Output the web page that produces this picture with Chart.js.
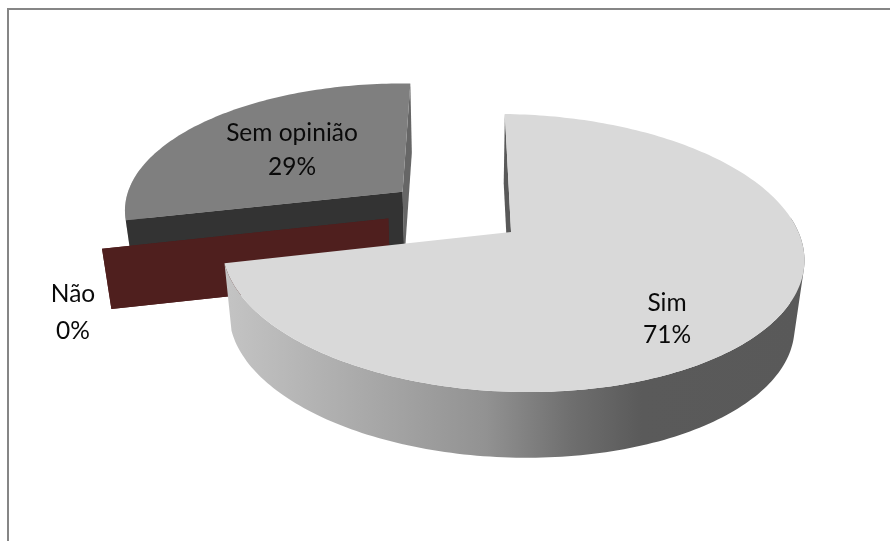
<!DOCTYPE html>
<html><head><meta charset="utf-8">
<style>html,body{margin:0;padding:0;background:#fff}#w{width:890px;height:541px}</style>
<script src="https://cdn.jsdelivr.net/npm/chart.js@4"></script>
</head><body><div id="w"><canvas id="c" width="890" height="541"></canvas></div>
<script>
const categories = ['Sim', 'Não', 'Sem opinião'];
const seriesValues = [71, 0, 29];
const percentLabels = ['71%', '0%', '29%'];
const topColors = ['#D9D9D9', '#4F1F1E', '#7F7F7F'];
const nearCutColors = ['#595959', '#4F1F1E', '#333333'];
const farCutColors = ['#595959', '#4F1F1E', '#666666'];
const depthScales = [1, 0.89, 1];
const wallStops = [[0,'#C4C4C4'],[0.45,'#929292'],[0.6,'#6E6E6E'],[0.72,'#5A5A5A'],[1,'#595959']];

// perspective model of the tilted pie plane
const EXPLODE = 0.245, K = 0.151, AY = 135.8, RX = 287.5, SHEAR = 0.027;
const VX = 464, BASE_X = 510, BASE_Y = 232, ORIGIN_U = -0.19, ORIGIN_V = -0.15;
const DEPTH = 0.029, DEPTH_GROW = 0.00025, DOWN_X = 464, DOWN_Y = 2570;
function project(u, v){
  const w = v + SHEAR*u;
  const s = 1/(1 - K*w);
  return {x: VX + (BASE_X - VX + RX*u)*s, y: BASE_Y + AY*w*s};
}
function lower(p, scale){
  const t = DEPTH*scale*(1 + DEPTH_GROW*(p.y - BASE_Y));
  return {x: p.x + (DOWN_X - p.x)*t, y: p.y + (DOWN_Y - p.y)*t};
}
function poly(ctx, pts){
  ctx.beginPath();
  addPoly(ctx, pts);
}
function addPoly(ctx, pts){
  pts.forEach((p,i)=> i ? ctx.lineTo(p.x,p.y) : ctx.moveTo(p.x,p.y));
  ctx.closePath();
}
function signedArea(pts){
  let s = 0;
  pts.forEach((p,i)=>{ const q = pts[(i+1)%pts.length]; s += p.x*q.y - q.x*p.y; });
  return s;
}

class Arc3D extends Chart.ArcElement {
  static id = 'arc3d';
  draw(ctx){
    const {startAngle:a0, endAngle:a1} = this;
    const mid = (a0 + a1)/2;
    const cu = ORIGIN_U + EXPLODE*Math.cos(mid), cv = ORIGIN_V + EXPLODE*Math.sin(mid);
    const apex = project(cu, cv);
    const rim = [], angles = [];
    const n = Math.max(1, Math.ceil((a1 - a0)/0.02));
    for (let i = 0; i <= n; i++){
      const a = a0 + (a1 - a0)*i/n;
      angles.push(a);
      rim.push(project(cu + Math.cos(a), cv + Math.sin(a)));
    }
    const idx = this.$context.dataIndex;
    const sc = depthScales[idx];
    const low = p => lower(p, sc);
    const first = rim[0], last = rim[rim.length - 1];
    ctx.save();
    if (a1 > a0){
      const xs = rim.map(p=>p.x), g = ctx.createLinearGradient(Math.min(...xs),0,Math.max(...xs),0);
      wallStops.forEach(([o,c])=>g.addColorStop(o,c));
      ctx.fillStyle = g;
      ctx.beginPath();
      for (let i = 0; i < rim.length - 1; i++){
        if (Math.sin(angles[i]) < -0.15) continue;
        const q = [rim[i], rim[i+1], low(rim[i+1]), low(rim[i])];
        addPoly(ctx, signedArea(q) < 0 ? q.reverse() : q);
      }
      ctx.fill();
    }
    const far = first.y < last.y ? first : last;
    const near = far === first ? last : first;
    ctx.fillStyle = farCutColors[idx];
    poly(ctx, [far, apex, low(apex), low(far)]); ctx.fill();
    ctx.fillStyle = this.options.backgroundColor;
    if (a1 > a0){ poly(ctx, [apex].concat(rim)); ctx.fill(); }
    if (idx !== 0){
      ctx.fillStyle = nearCutColors[idx];
      poly(ctx, [near, apex, low(apex), low(near)]); ctx.fill();
    }
    ctx.restore();
  }
}
class Pie3D extends Chart.PieController {
  static id = 'pie3d';
  static defaults = {dataElementType: 'arc3d'};
  draw(){
    const els = this._cachedMeta.data;
    for (let i = els.length - 1; i >= 0; i--) els[i].draw(this.chart.ctx);
  }
}
Chart.register(Chart.ArcElement, Chart.PieController, Arc3D, Pie3D);

const labelAnchors = [[667,303,335],[73,294,331],[292,133,167]];
const framePlugin = {
  id:'frame',
  beforeDraw(chart){
    const c = chart.ctx; c.save();
    c.strokeStyle = '#868686'; c.lineWidth = 2;
    c.beginPath(); c.moveTo(8,541); c.lineTo(8,9); c.lineTo(890,9); c.stroke();
    c.restore();
  },
  afterDatasetsDraw(chart){
    const c = chart.ctx; c.save();
    c.font = '24.5px Lato'; c.fillStyle = '#0A0A0A'; c.textAlign='center'; c.textBaseline='middle';
    categories.forEach((t,i)=>{
      const [x,y1,y2] = labelAnchors[i];
      c.fillText(t,x,y1); c.fillText(percentLabels[i],x,y2);
    });
    c.restore();
  }
};
new Chart(document.getElementById('c'),{
  type:'pie3d',
  data:{labels:categories,datasets:[{data:seriesValues,backgroundColor:topColors,borderWidth:0}]},
  options:{responsive:false,animation:false,events:[],plugins:{legend:{display:false},tooltip:{enabled:false}}},
  plugins:[framePlugin]
});
</script></body></html>
